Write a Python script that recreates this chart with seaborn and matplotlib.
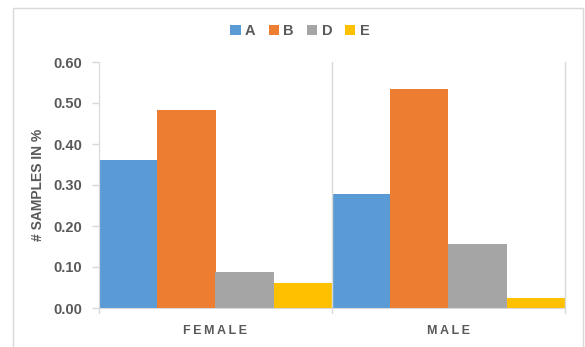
import pandas as pd
import matplotlib.pyplot as plt
import matplotlib.patches as mpatches
import seaborn as sns

genders = ['FEMALE', 'MALE']
groups = ['A', 'B', 'D', 'E']
female_vals = [0.36, 0.483, 0.089, 0.062]
male_vals = [0.279, 0.534, 0.157, 0.025]
colors = ['#5B9BD5', '#ED7D31', '#A5A5A5', '#FFC000']

rows = []
for g, v in zip(groups, female_vals):
    rows.append({'gender': genders[0], 'group': g, 'value': v})
for g, v in zip(groups, male_vals):
    rows.append({'gender': genders[1], 'group': g, 'value': v})
df = pd.DataFrame(rows)

sns.set_style('white')
plt.rcParams['font.family'] = ['Liberation Sans', 'DejaVu Sans']
txt = '#595959'
line = '#D9D9D9'

fig = plt.figure(figsize=(5.85, 3.47), dpi=100)
ax = fig.add_axes([99 / 585, 39 / 347, 466 / 585, 246 / 347])

sns.barplot(data=df, x='gender', y='value', hue='group', hue_order=groups,
            palette=colors, width=1, gap=0, saturation=1, linewidth=0,
            ax=ax, legend=True)

ax.set_xlim(-0.5, 1.5)
ax.set_ylim(0, 0.6)
ax.set_yticks([0, 0.1, 0.2, 0.3, 0.4, 0.5, 0.6])
ax.set_yticklabels([f'{t:.2f}' for t in ax.get_yticks()], fontsize=10.5,
                   fontweight='bold', color=txt)
ax.set_xticks([0, 1])
spaced = ['\u2009'.join(list(s)) for s in genders]
ax.set_xticklabels(spaced, fontsize=9, fontweight='bold', color=txt)
ax.tick_params(axis='x', length=0, pad=12)
ax.tick_params(axis='y', length=5, color=line, width=1, pad=7, direction='out', left=True)
ax.set_xlabel('')
ax.set_ylabel('# SAMPLES IN %', fontsize=10, fontweight='bold', color=txt, labelpad=6)

for s in ['top', 'right']:
    ax.spines[s].set_visible(False)
ax.spines['left'].set_color(line)
ax.spines['bottom'].set_color(line)

# vertical separators between categories
for xb in [0.5, 1.5]:
    ax.axvline(xb, ymin=-0.02, ymax=1, color=line, lw=1, clip_on=False)
ax.axvline(-0.5, ymin=-0.02, ymax=0, color=line, lw=1, clip_on=False)

leg = ax.legend(loc='center', bbox_to_anchor=(300 / 585, 1 - 31 / 347),
                bbox_transform=fig.transFigure, ncol=4, frameon=False,
                handlelength=0.7, handleheight=0.7, handletextpad=0.3,
                columnspacing=0.9, borderaxespad=0, prop={'size': 10.5, 'weight': 'bold'})
for t in leg.get_texts():
    t.set_color(txt)

fig.patches.append(mpatches.Rectangle((13 / 585, -0.1), 570 / 585, 1.1 - 8 / 347,
                                      transform=fig.transFigure, fill=False,
                                      edgecolor=line, lw=1))

fig.savefig('out.png', dpi=100)
